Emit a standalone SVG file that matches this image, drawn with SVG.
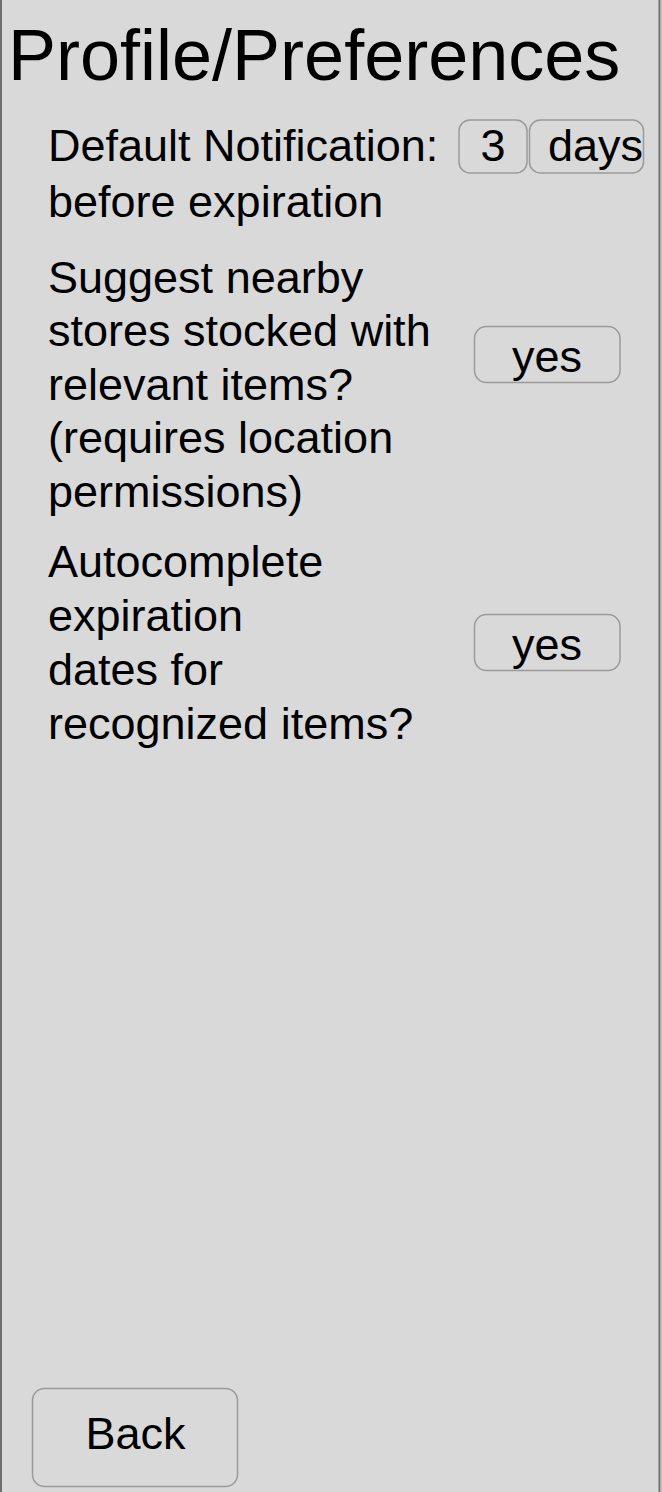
<svg xmlns="http://www.w3.org/2000/svg" width="662" height="1492" viewBox="0 0 662 1492">
<style>
text{font-family:"Liberation Sans",Arial,Helvetica,sans-serif;fill:#000}
.lbl{font-size:45px}
.title{font-size:72px}
.btn{fill:#d9d9d9;stroke:#9a9a9a;stroke-width:1.5}
.c{text-anchor:middle}
</style>
<rect x="0" y="0" width="662" height="1492" fill="#d9d9d9"/>
<rect x="1" y="-10" width="658.5" height="1520" fill="none" stroke="#6e6e6e" stroke-width="2"/>
<line x1="661.2" y1="0" x2="661.2" y2="1492" stroke="#bdbdbd" stroke-width="1.5"/>
<g id="title"><text class="title" x="8" y="80">Profile/Preferences</text></g>
<g id="notification">
<text class="lbl" x="48" y="161">Default Notification:</text>
<text class="lbl" x="48" y="216.5">before expiration</text>
</g>
<g id="days-count"><rect class="btn" x="459" y="120" width="68" height="53" rx="11"/><text class="lbl c" x="493" y="161">3</text></g>
<g id="days-unit"><rect class="btn" x="529.5" y="120" width="114" height="53" rx="11"/><text class="lbl" x="548" y="161">days</text></g>
<g id="suggest">
<text class="lbl" x="48" y="292.5">Suggest nearby</text>
<text class="lbl" x="48" y="346">stores stocked with</text>
<text class="lbl" x="48" y="399.5">relevant items?</text>
<text class="lbl" x="48" y="453">(requires location</text>
<text class="lbl" x="48" y="506.5">permissions)</text>
</g>
<g id="suggest-toggle"><rect class="btn" x="474.5" y="326.5" width="145.5" height="56" rx="12"/><text class="lbl c" x="547" y="371.5">yes</text></g>
<g id="autocomplete">
<text class="lbl" x="48" y="577">Autocomplete</text>
<text class="lbl" x="48" y="631">expiration</text>
<text class="lbl" x="48" y="685">dates for</text>
<text class="lbl" x="48" y="739">recognized items?</text>
</g>
<g id="autocomplete-toggle"><rect class="btn" x="474.5" y="614.5" width="145.5" height="56" rx="12"/><text class="lbl c" x="547" y="660">yes</text></g>
<g id="back"><rect class="btn" x="32.5" y="1388.5" width="205" height="98" rx="12"/><text class="lbl c" x="135.5" y="1449">Back</text></g>
<g id="connectors"/>
</svg>
